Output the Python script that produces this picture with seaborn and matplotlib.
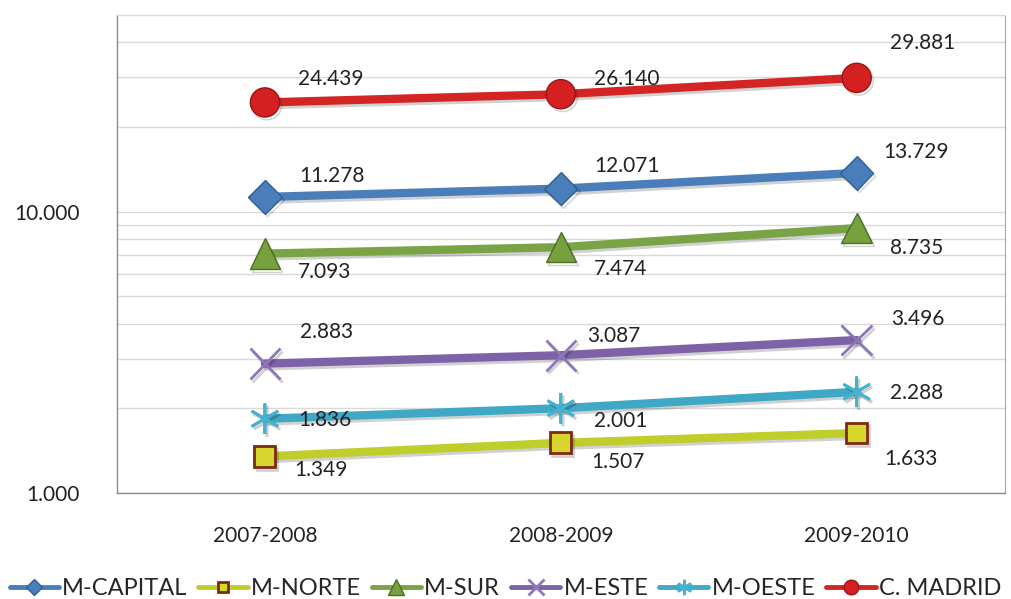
import matplotlib
matplotlib.use("Agg")
import matplotlib.pyplot as plt
import matplotlib.patheffects as pe
from matplotlib.ticker import LogLocator, FuncFormatter, NullFormatter
import seaborn as sns

# data
categories = ["2007-2008", "2008-2009", "2009-2010"]
m_capital = [11278, 12071, 13729]
m_norte = [1349, 1507, 1633]
m_sur = [7093, 7474, 8735]
m_este = [2883, 3087, 3496]
m_oeste = [1836, 2001, 2288]
c_madrid = [24439, 26140, 29881]
series_names = ["M-CAPITAL", "M-NORTE", "M-SUR", "M-ESTE", "M-OESTE", "C. MADRID"]

sns.set_style("white")
plt.rcParams["font.family"] = ["Lato", "DejaVu Sans"]

# style per series: colour, marker, size, face, edge, edge width, label offsets (pt)
styles = {
    "M-CAPITAL": dict(color="#4A7EBB", marker="D", ms=17, mfc="#4A7EBB", mec="#2F5F94", mew=1,
                      offs=[(25, 15), (24, 16), (19, 15)]),
    "M-NORTE": dict(color="#BFCE2A", marker="s", ms=15, mfc="#D8D62C", mec="#7A2A14", mew=2,
                    offs=[(21, -10), (22, -14), (20, -19)]),
    "M-SUR": dict(color="#7AA346", marker="^", ms=22, mfc="#77A03F", mec="#4E6E26", mew=1,
                  offs=[(24, -13), (24, -16), (24, -14)]),
    "M-ESTE": dict(color="#7E62A8", marker="x", ms=22, mfc="#7E62A8", mec="#8E76B8", mew=2,
                   offs=[(25, 23), (19, 14), (25, 15)]),
    "M-OESTE": dict(color="#3FA8C4", marker=(6, 2, 0), ms=22, mfc="#3FA8C4", mec="#45B2CE", mew=2,
                    offs=[(24, -1), (24, -9), (24, -1)]),
    "C. MADRID": dict(color="#D42525", marker="o", ms=21, mfc="#D42020", mec="#9A1414", mew=1,
                      offs=[(24, 17), (24, 11), (24, 25)]),
}
values = {"M-CAPITAL": m_capital, "M-NORTE": m_norte, "M-SUR": m_sur,
          "M-ESTE": m_este, "M-OESTE": m_oeste, "C. MADRID": c_madrid}

fig = plt.figure(figsize=(10.11, 5.99), dpi=100)
ax = fig.add_axes([0.1157, 0.177, 0.878, 0.798])

x = list(range(len(categories)))
for name in series_names:
    st = styles[name]
    sns.lineplot(x=x, y=values[name], ax=ax, color=st["color"], linewidth=6,
                 marker=st["marker"], markersize=st["ms"], markerfacecolor=st["mfc"],
                 markeredgecolor=st["mec"], markeredgewidth=st["mew"], label=name,
                 path_effects=[pe.SimpleLineShadow(offset=(1.5, -2), alpha=0.18), pe.Normal()],
                 zorder=3)
    for xi, v, off in zip(x, values[name], st["offs"]):
        ax.annotate(f"{v:,}".replace(",", "."), (xi, v), xytext=off, textcoords="offset points",
                    ha="left", va="center", fontsize=15, color="#222222", zorder=5)

ax.set_yscale("log")
ax.set_ylim(1000, 50000)
ax.set_xlim(-0.5, 2.5)
ax.yaxis.set_major_locator(LogLocator(base=10))
ax.yaxis.set_minor_locator(LogLocator(base=10, subs=range(2, 10)))
ax.yaxis.set_major_formatter(FuncFormatter(lambda v, p: f"{v:,.0f}".replace(",", ".")))
ax.yaxis.set_minor_formatter(NullFormatter())
ax.grid(True, which="both", axis="y", color="#D9D9D9", linewidth=1)
ax.set_xticks(x)
ax.set_xticklabels(categories)
ax.tick_params(axis="y", which="both", length=0, pad=27, labelsize=15, labelcolor="#222222")
ax.tick_params(axis="x", length=0, pad=24, labelsize=15, labelcolor="#222222")
ax.set_xlabel("")
ax.set_ylabel("")

for side in ["left", "bottom"]:
    ax.spines[side].set_color("#8C8C8C")
    ax.spines[side].set_linewidth(1)
ax.spines["right"].set_color("#A6A6A6")
ax.spines["top"].set_color("#D9D9D9")

leg = ax.legend(loc="center", bbox_to_anchor=(0.4375, -0.2), ncol=6,
                frameon=False, fontsize=17, markerscale=0.5, handlelength=2.1, handletextpad=0.13,
                columnspacing=0.45, borderaxespad=0, borderpad=0)
for line in leg.get_lines():
    line.set_linewidth(3.5)
    line.set_path_effects([])

plt.savefig("out.png", dpi=100)
plt.close()
